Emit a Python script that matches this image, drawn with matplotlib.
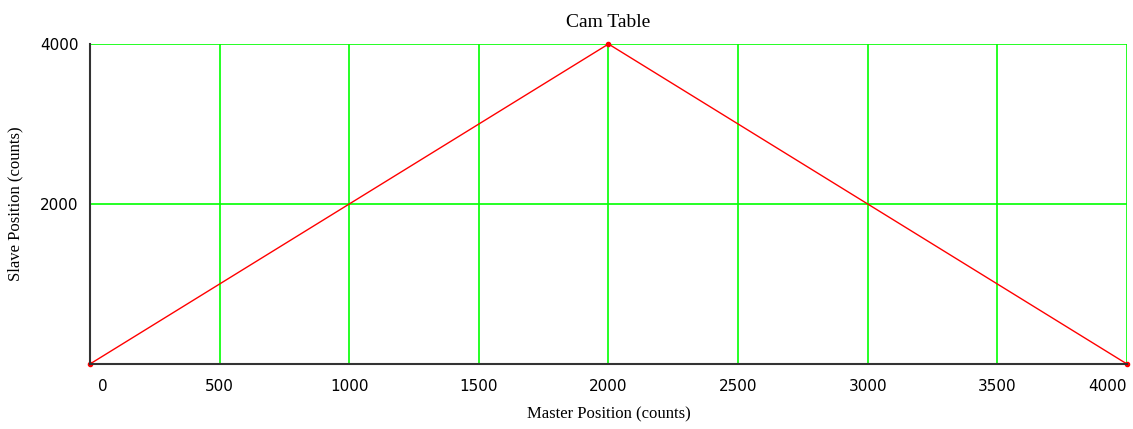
import matplotlib
matplotlib.use('Agg')
import matplotlib.pyplot as plt
from matplotlib.transforms import ScaledTranslation

# Cam table points
master = [0, 2000, 4000]
slave = [0, 4000, 0]
x_ticks = [0, 500, 1000, 1500, 2000, 2500, 3000, 3500, 4000]
y_ticks = [2000, 4000]

fig = plt.figure(figsize=(11.33, 4.29), dpi=100)
ax = fig.add_axes([0.0794, 0.1515, 0.9153, 0.7459])

# Grid lines in bright green
for xv in x_ticks[1:]:
    ax.axvline(xv, color='#00ff00', linewidth=1.2, zorder=1)
for yv in y_ticks:
    ax.axhline(yv, color='#00ff00', linewidth=1.2, zorder=1)

ax.plot(master, slave, color='#ff0000', linewidth=1.0, marker='o',
        markersize=3, zorder=3, clip_on=False)

ax.set_xlim(0, 4000)
ax.set_ylim(0, 4000)

for side in ['top', 'right']:
    ax.spines[side].set_visible(False)
for side in ['left', 'bottom']:
    ax.spines[side].set_color('#333333')
    ax.spines[side].set_linewidth(1.5)
    ax.spines[side].set_zorder(4)

ax.set_xticks(x_ticks)
ax.set_yticks(y_ticks)
ax.tick_params(length=0, labelsize=11, pad=11)
ax.tick_params(axis='y', pad=8)
labels = ax.set_xticklabels([str(v) for v in x_ticks], family='DejaVu Sans')
labels[0].set_ha('left')
labels[0].set_transform(labels[0].get_transform() + ScaledTranslation(0.08, 0, fig.dpi_scale_trans))
labels[-1].set_ha('right')
ax.set_yticklabels([str(v) for v in y_ticks], family='DejaVu Sans')

ax.set_title('Cam Table', family='Liberation Serif', fontsize=14, pad=12)
ax.set_xlabel('Master Position (counts)', family='Liberation Serif', fontsize=12, labelpad=9)
ax.set_ylabel('Slave Position (counts)', family='Liberation Serif', fontsize=12, labelpad=12)

plt.savefig('out.png', dpi=100)
plt.close()
